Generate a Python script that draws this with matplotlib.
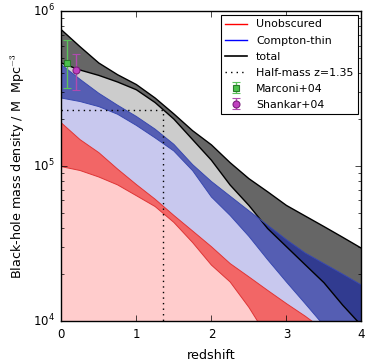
import numpy as np
import matplotlib
matplotlib.use("Agg")
import matplotlib.pyplot as plt

plt.style.use("classic")
plt.rcParams["font.family"] = ["DejaVu Sans"]
plt.rcParams["legend.numpoints"] = 1
plt.rcParams["legend.scatterpoints"] = 1

# redshift grid
z = [0.0, 0.25, 0.5, 0.75, 1.0, 1.25, 1.5, 1.75, 2.0, 2.25, 2.5, 2.75, 3.0, 3.25, 3.5, 3.75, 4.0]

# total (lower / upper bound), M_sun Mpc^-3
total_lo = [4.63e5, 4.17e5, 3.85e5, 3.49e5, 3.11e5, 2.57e5, 2.01e5, 1.48e5, 1.09e5, 7.53e4,
            5.56e4, 3.94e4, 3.01e4, 2.30e4, 1.76e4, 1.26e4, 9.3e3]
total_hi = [7.60e5, 5.90e5, 4.63e5, 3.89e5, 3.36e5, 2.75e5, 2.17e5, 1.69e5, 1.37e5, 1.05e5,
            8.28e4, 6.81e4, 5.56e4, 4.75e4, 4.06e4, 3.46e4, 2.94e4]

# Compton-thin
ct_lo = [2.75e5, 2.61e5, 2.42e5, 2.16e5, 1.83e5, 1.52e5, 1.25e5, 9.33e4, 6.31e4, 4.79e4,
         3.51e4, 2.48e4, 1.78e4, 1.29e4, 9.3e3, 6.3e3, 4.0e3]
ct_hi = [4.52e5, 3.63e5, 2.95e5, 2.47e5, 2.09e5, 1.73e5, 1.38e5, 1.02e5, 7.94e4, 6.38e4,
         5.13e4, 4.14e4, 3.34e4, 2.74e4, 2.34e4, 2.00e4, 1.70e4]

# Unobscured
un_lo = [9.91e4, 9.35e4, 8.49e4, 7.55e4, 6.43e4, 5.47e4, 4.32e4, 3.20e4, 2.29e4, 1.78e4,
         1.22e4, 7.8e3, 5.0e3, 3.2e3, 2.0e3, 1.3e3, 8e2]
un_hi = [1.90e5, 1.48e5, 1.22e5, 9.55e4, 7.59e4, 6.10e4, 4.79e4, 3.80e4, 3.01e4, 2.34e4,
         1.92e4, 1.57e4, 1.29e4, 1.07e4, 8.7e3, 7.1e3, 5.6e3]

# half-mass redshift
z_half = 1.35
m_half = total_lo[0] / 2.0

# local measurements
marconi_z, marconi_m, marconi_err_lo, marconi_err_hi = [0.08], [4.6e5], [1.4e5], [1.9e5]
shankar_z, shankar_m, shankar_err_lo, shankar_err_hi = [0.2], [4.2e5], [1.1e5], [1.1e5]

floor = 1e2
ymin, ymax = 1e4, 1e6

fig = plt.figure(figsize=(3.67, 3.63), dpi=100, facecolor="white")
ax = fig.add_axes([0.167, 0.1165, 0.818, 0.8525])
ax.set_yscale("log")

# total
ax.fill_between(z, floor, total_lo, facecolor="#cccccc", edgecolor="none", linewidth=0)
ax.fill_between(z, total_lo, total_hi, facecolor="#666666", edgecolor="none", linewidth=0)
ax.plot(z, total_hi, color="k", lw=1.0)
ax.plot(z, total_lo, color="k", lw=1.0)

# Compton-thin
ax.fill_between(z, floor, ct_lo, facecolor="#c8c8ee", edgecolor="none", linewidth=0)
ax.fill_between(z, ct_lo, ct_hi, facecolor=(21/255, 36/255, 167/255), alpha=0.65,
                edgecolor="none", linewidth=0)
ax.plot(z, ct_lo, color="#3848b0", lw=0.7)
ax.plot(z, ct_hi, color="#3848b0", lw=0.7)

# Unobscured
ax.fill_between(z, floor, un_lo, facecolor="#ffcccc", edgecolor="none", linewidth=0)
ax.fill_between(z, un_lo, un_hi, facecolor="#f26666", edgecolor="none", linewidth=0)
ax.plot(z, un_lo, color="#e03535", lw=0.7)
ax.plot(z, un_hi, color="#e03535", lw=0.7)

# legend proxies
ax.plot([], [], color="r", lw=1.0, label="Unobscured")
ax.plot([], [], color="b", lw=1.0, label="Compton-thin")
ax.plot([], [], color="k", lw=1.2, label="total")
ax.plot([0, z_half, z_half], [m_half, m_half, floor], color="k", ls=":", lw=1.0,
        label="Half-mass z=1.35")

ax.errorbar(marconi_z, marconi_m, yerr=[marconi_err_lo, marconi_err_hi], fmt="s",
            color="#5cc25c", mfc="#4cc24c", mec="#2a7a2a", ms=5, capsize=3, elinewidth=1.0,
            mew=0.8, label="Marconi+04")
ax.errorbar(shankar_z, shankar_m, yerr=[shankar_err_lo, shankar_err_hi], fmt="o",
            color="#b04ab0", mfc="#c040c0", mec="#7a207a", ms=5, capsize=3, elinewidth=1.0,
            mew=0.8, label="Shankar+04")

ax.set_xlim(0, 4)
ax.set_ylim(ymin, ymax)
ax.set_xticks([0, 1, 2, 3, 4])
ax.tick_params(axis="both", which="major", labelsize=8.5, length=4, pad=5)
ax.tick_params(axis="both", which="minor", length=2)
ax.set_xlabel("redshift", fontsize=9.2, labelpad=6)
ax.set_ylabel("Black-hole mass density / M  Mpc$^{-3}$", fontsize=9.2, labelpad=4)

leg = ax.legend(loc="upper right", fontsize=7.9, frameon=True, fancybox=False,
                handlelength=2.0, borderaxespad=0.35, labelspacing=0.55)
leg.get_frame().set_edgecolor("k")
leg.get_frame().set_linewidth(0.8)

fig.savefig("out.png", dpi=100, facecolor="white")
